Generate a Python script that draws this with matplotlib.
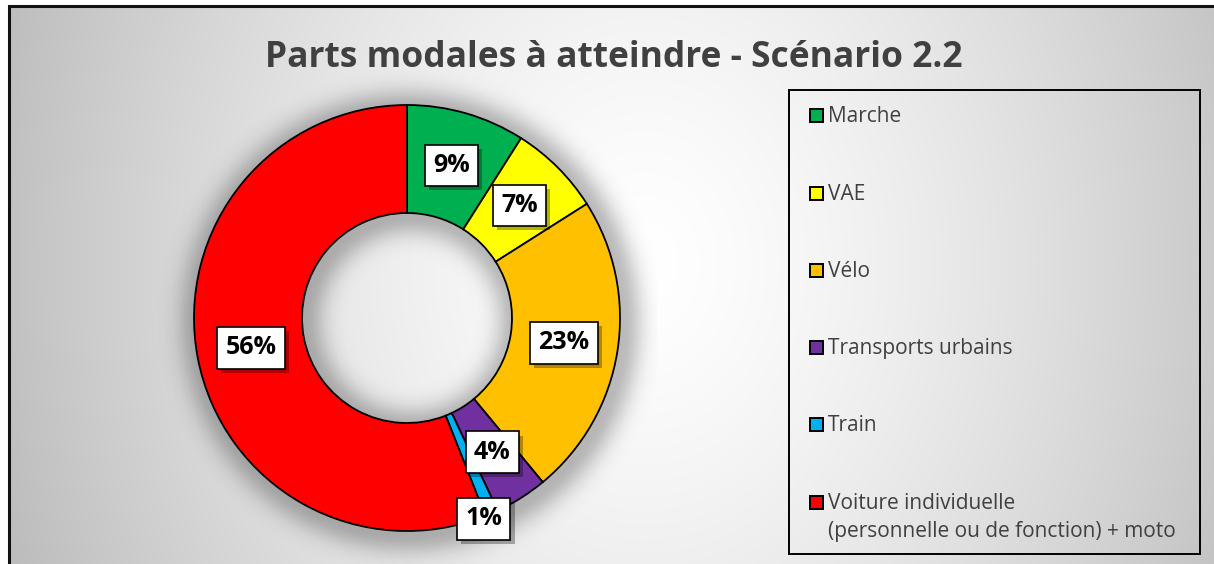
import numpy as np
import matplotlib
matplotlib.use("agg")
import matplotlib.pyplot as plt
from matplotlib.patches import Rectangle
import matplotlib.patheffects as pe

# Modal shares, scenario 2.2
categories = ["Marche", "VAE", "Vélo", "Transports urbains", "Train",
              "Voiture individuelle\n(personnelle ou de fonction) + moto"]
shares = [9, 7, 23, 4, 1, 56]
colors = ["#00B050", "#FFFF00", "#FFC000", "#7030A0", "#00B0F0", "#FF0000"]
title = "Parts modales à atteindre - Scénario 2.2"

W, H = 1214, 564
plt.rcParams['font.family'] = ['Open Sans', 'DejaVu Sans']
fig = plt.figure(figsize=(W / 100, H / 100), dpi=100)
fig.patch.set_facecolor("white")

# chart area background: soft grey-to-white gradient
bg = fig.add_axes([9 / W, 0, 1 - 9 / W, 1 - 6 / H])
bg.set_axis_off()
yy, xx = np.mgrid[0:H, 0:W]
d = np.sqrt(((xx - 640) / 640.0) ** 2 + ((yy - 260) / 800.0) ** 2)
shade = 1 - 0.24 * np.clip(d, 0, 1.3) ** 1.4
bg.imshow(np.dstack([shade] * 3), aspect="auto", extent=[0, 1, 0, 1],
          interpolation="bilinear")
bg.set_xlim(0, 1)
bg.set_ylim(0, 1)
fig.patches.append(Rectangle((9 / W, -0.01), 1 - 8 / W, 1 - 6 / H + 0.01,
                             transform=fig.transFigure, fill=False,
                             edgecolor="#111111", linewidth=2.2, zorder=5))

fig.text(614 / W, 1 - 58 / H, title, ha="center", va="center",
         fontsize=25.5, fontweight="bold", color="#404040")

# donut, axes measured in pixels around its centre
cx, cy, half = 407, 318, 250
ax = fig.add_axes([(cx - half) / W, (H - cy - half) / H, 2 * half / W, 2 * half / H])
R, r_in = 213, 105

# soft shadow around the ring
gy, gx = np.mgrid[-half:half:1.0, -half:half:1.0]
rr = np.hypot(gx - 3, gy + 4)
dist = np.maximum(np.maximum(rr - R, r_in - rr), 0)
alpha = 0.26 * np.exp(-(dist / 20.0) ** 2)
sh = np.zeros(rr.shape + (4,))
sh[..., 3] = alpha
ax.imshow(sh, extent=[-half, half, -half, half], origin="lower",
          interpolation="bilinear", zorder=0)

wedges, _ = ax.pie(shares, colors=colors, radius=R, startangle=90,
                   counterclock=False,
                   wedgeprops=dict(width=R - r_in, edgecolor="black",
                                   linewidth=1.3))
for w in wedges:
    w.set_zorder(2)

box_shadow = [pe.SimplePatchShadow(offset=(3, -3), shadow_rgbFace="black",
                                   alpha=0.3), pe.Normal()]
for w, v in zip(wedges, shares):
    mid = np.deg2rad((w.theta1 + w.theta2) / 2)
    if v > 1:
        rad = (R + r_in) / 2
    else:
        # thin slice: label pushed to the outer edge
        rad, mid = R + 2, mid - np.deg2rad(2.5)
    t = ax.text(rad * np.cos(mid), rad * np.sin(mid), f"{v}%",
                ha="center", va="center", fontsize=18, fontweight="bold",
                color="black", zorder=4,
                bbox=dict(boxstyle="square,pad=0.33", facecolor="white",
                          edgecolor="black", linewidth=1.2))
    t.get_bbox_patch().set_path_effects(box_shadow)

ax.set_axis_off()
ax.set_aspect("equal")
ax.set_xlim(-half, half)
ax.set_ylim(-half, half)

# legend box
fig.patches.append(Rectangle((789 / W, 1 - 554 / H), (1200 - 789) / W,
                             (554 - 90) / H, transform=fig.transFigure,
                             fill=False, edgecolor="black", linewidth=1.4,
                             zorder=5))
row_y = [115, 193, 270, 347, 424, 502]
for name, col, y in zip(categories, colors, row_y):
    fig.patches.append(Rectangle((809.5 / W, 1 - (y + 6.5) / H), 13 / W, 13 / H,
                                 transform=fig.transFigure, facecolor=col,
                                 edgecolor="black", linewidth=1.4, zorder=6))
    for k, line in enumerate(name.split("\n")):
        fig.text(828 / W, 1 - (y + 7 + 28 * k) / H, line, ha="left",
                 va="baseline", fontsize=15, color="#404040")

fig.savefig("out.png", dpi=100)
